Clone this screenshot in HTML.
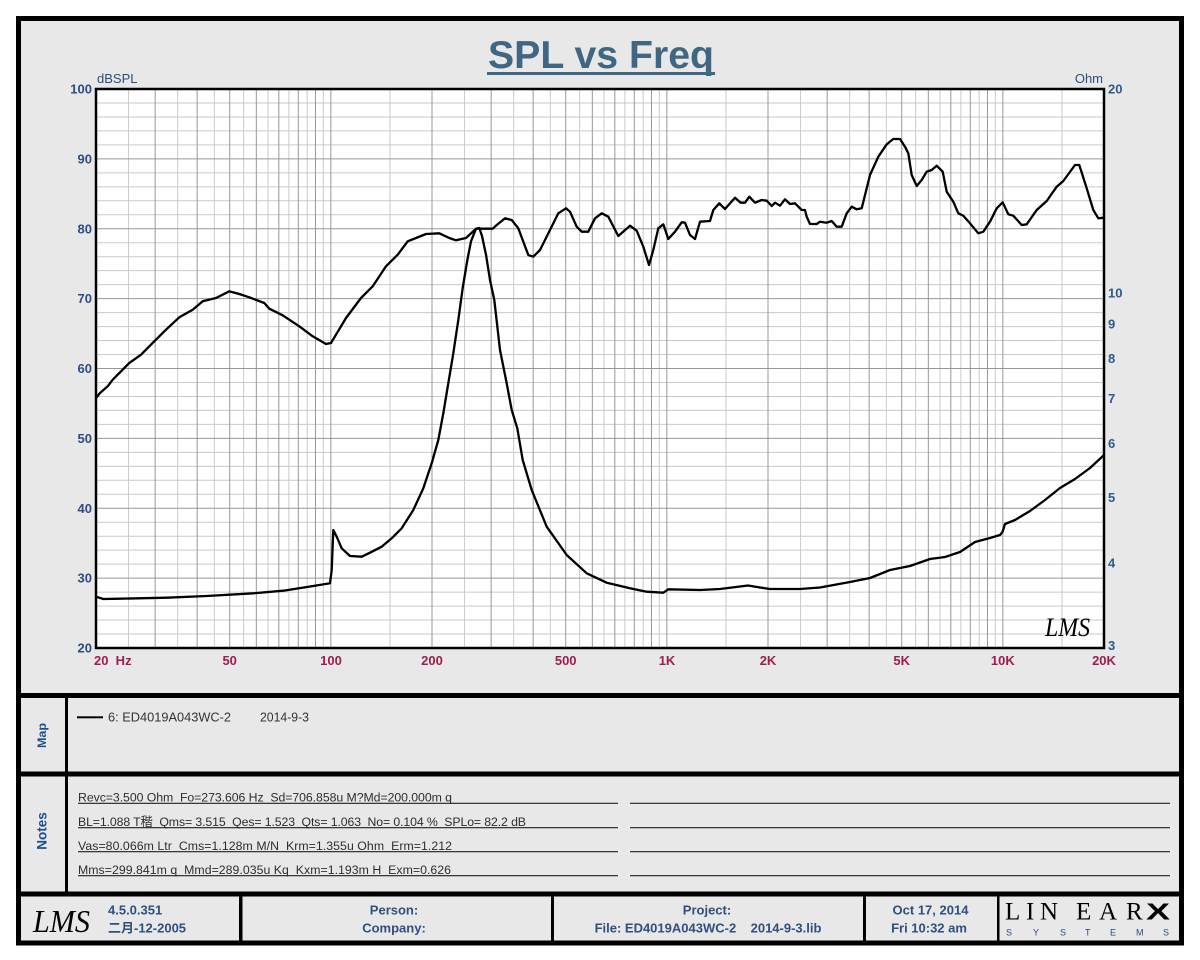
<!DOCTYPE html>
<html><head><meta charset="utf-8"><style>html,body{margin:0;padding:0;background:#fff;}svg{display:block;}</style></head>
<body>
<svg width="1200" height="960" viewBox="0 0 1200 960" xmlns="http://www.w3.org/2000/svg" font-family="'Liberation Sans', Arial, sans-serif">
<rect width="1200" height="960" fill="#fff"/>
<rect x="18.5" y="18.5" width="1163" height="924.5" fill="#e8e8e8" stroke="#000" stroke-width="5"/>

<!-- Title -->
<text x="601" y="68" text-anchor="middle" font-size="39" font-weight="bold" fill="#3f6784" textLength="226" lengthAdjust="spacingAndGlyphs">SPL vs Freq</text>
<rect x="487" y="72" width="228" height="3" fill="#3f6784"/>

<!-- plot area -->
<rect x="96" y="89" width="1008" height="559" fill="#fff"/>
<path fill="none" stroke="#cacaca" stroke-width="1" d="
M128.56 89V648M177.66 89V648M214.33 89V648M243.62 89V648M268 89V648M288.88 89V648M307.14 89V648M323.37 89V648
M390 89V648M464.56 89V648M513.66 89V648M550.33 89V648M579.62 89V648M604 89V648M624.88 89V648M643.14 89V648M659.37 89V648
M726 89V648M800.56 89V648M849.66 89V648M886.33 89V648M915.62 89V648M940 89V648M960.88 89V648M979.14 89V648M995.37 89V648
M1062 89V648
M96 102.98H1104M96 116.95H1104M96 130.93H1104M96 144.9H1104M96 172.85H1104M96 186.83H1104M96 200.8H1104M96 214.78H1104
M96 242.73H1104M96 256.7H1104M96 270.68H1104M96 284.65H1104M96 312.6H1104M96 326.58H1104M96 340.55H1104M96 354.53H1104
M96 382.48H1104M96 396.45H1104M96 410.43H1104M96 424.4H1104M96 452.35H1104M96 466.33H1104M96 480.3H1104M96 494.28H1104
M96 522.23H1104M96 536.2H1104M96 550.18H1104M96 564.15H1104M96 592.1H1104M96 606.08H1104M96 620.05H1104M96 634.03H1104"/>
<path fill="none" stroke="#979797" stroke-width="1" d="
M155.17 89V648M197.15 89V648M229.72 89V648M256.32 89V648M278.81 89V648M298.3 89V648M315.48 89V648M330.85 89V648
M432 89V648M491.17 89V648M533.15 89V648M565.72 89V648M592.32 89V648M614.81 89V648M634.3 89V648M651.48 89V648M666.85 89V648
M768 89V648M827.17 89V648M869.15 89V648M901.72 89V648M928.32 89V648M950.81 89V648M970.3 89V648M987.48 89V648M1002.85 89V648
M96 158.88H1104M96 228.75H1104M96 298.63H1104M96 368.5H1104M96 438.38H1104M96 508.25H1104M96 578.13H1104"/>

<!-- SPL curve -->
<polyline fill="none" stroke="#000" stroke-width="2.3" stroke-linejoin="round" points="96,398 100,393 107.7,386.3 112.7,379.7 129.3,363 141,354.7 154.3,341.3 166,329.7 179.3,317.3 192.7,309.7 202.7,301.3 216,298 229.3,291.3 239.3,294 249.3,297.3 264.3,303 269.3,308.7 282.7,315.3 299.3,326.3 312.7,336.3 326,344 331,343 336,334.7 346,318 361,298 372.7,286.3 386,266.3 397.7,254.7 407.7,241.3 416,238 426,234 439.3,233.3 449.3,238 456,240.3 466,238 476,228.7 492.7,228.7 496.7,225 505,218.3 511.7,220 518.3,228.3 523.3,241.7 528.3,255 533.3,256.7 540,250 550,230 558.3,213.3 566,208.3 570,211.7 576.7,226.7 581.7,231.7 588.3,231.7 595,218.3 601.7,213.3 608.3,216.7 618.3,236 630,225.7 636.7,230.7 643.3,246.7 649,265 653.3,250 658.3,228.3 663.3,224.3 668.3,239 675,231.7 681.7,222.3 685,222.7 690,235 695,239 700,221.7 710,221 713.3,210 719.3,203.3 725,209 735,197.7 740.7,202.7 745,202.7 749.3,196.7 755,202.7 761.7,200 766.7,200.7 771.7,206 775,202.7 780,205.7 785,199.3 790,204 795,203.3 801.7,210 805,210 806.7,216.7 810,224 816.7,224 820,221.7 826.7,222.7 831.7,221 836.7,226.7 841.7,226.7 846.7,213.3 851.7,206.7 856.7,209.3 861.7,208.3 870,175 878.3,156.7 886.7,144.3 893.3,139 900,139 905,146.7 908.3,153.3 911.7,175 916.7,186 921.7,180 926.7,171.7 931.7,170 936.7,165.7 942.7,171.7 946.7,191.7 953.3,201.7 958.3,213.3 963.3,215.7 970,223.3 978.3,233.3 983.3,231.7 990,221.7 996.7,208.3 1002.7,202.3 1008.3,214.3 1013.3,215.7 1021.7,225 1026.7,224.3 1036.7,210 1046.7,201 1056.7,186.7 1063.3,181 1075,165 1079.3,165 1086.7,188.3 1093.3,210 1098.3,218.3 1104,217.7"/>

<!-- Impedance curve -->
<polyline fill="none" stroke="#000" stroke-width="2.3" stroke-linejoin="round" points="96,596.7 103.3,599 120,598.7 166.7,597.7 206.7,596 253.3,593.3 283.3,590.7 313.3,586 330,583.3 331.7,570 333.3,530 336.7,536.7 341.7,548.3 350,556 361.7,556.7 370,552.7 381.7,546.7 391.7,538.3 401.7,528.3 413.3,510 423.3,488.3 431.7,463.3 438.3,440 443.3,413.3 448.3,383.3 453.3,353.3 458.3,320 462.7,288 467,262 471,241.3 476,228.7 479.3,228 482,236 486,254.7 490,280 494.3,300 500,350 506.7,383.3 511.7,410 517.3,428.3 522.7,460 531.7,490 546.7,526.7 566.7,555 586.7,573.3 606.7,582.7 630,588.3 646.7,591.7 663.3,592.7 668.3,589.3 700,590 720,589 740,586.5 748,585.5 760,587.5 770,589 800,589 820,587.5 850,582 870,578 885,572 890,570 910,566 930,559 945,557 960,552 975,542 990,538 1000,535 1002.5,532 1005,524 1015,520 1030,511 1045,500 1060,488 1075,479 1090,468 1104,455"/>

<rect x="96" y="89" width="1008" height="559" fill="none" stroke="#000" stroke-width="2.5"/>

<!-- LMS chart logo -->
<text x="1045" y="636" font-family="'Liberation Serif', serif" font-style="italic" font-size="26" fill="#000" textLength="45" lengthAdjust="spacingAndGlyphs">LMS</text>

<!-- Axis titles -->
<text x="97" y="83" font-size="13" fill="#2c4c82">dBSPL</text>
<text x="1103" y="83" font-size="13" fill="#2c4c82" text-anchor="end">Ohm</text>

<!-- left ticks -->
<g font-size="13" font-weight="bold" fill="#2c4c82" text-anchor="end">
<text x="92" y="93.5">100</text>
<text x="92" y="163.4">90</text>
<text x="92" y="233.3">80</text>
<text x="92" y="303.1">70</text>
<text x="92" y="373">60</text>
<text x="92" y="442.9">50</text>
<text x="92" y="512.8">40</text>
<text x="92" y="582.6">30</text>
<text x="92" y="652.5">20</text>
</g>
<!-- right ticks -->
<g font-size="13" font-weight="bold" fill="#2f5a90">
<text x="1108" y="93.5">20</text>
<text x="1108" y="297.7">10</text>
<text x="1108" y="328.5">9</text>
<text x="1108" y="363.2">8</text>
<text x="1108" y="402.8">7</text>
<text x="1108" y="448.2">6</text>
<text x="1108" y="502">5</text>
<text x="1108" y="567.5">4</text>
<text x="1108" y="650">3</text>
</g>
<!-- x ticks -->
<g font-size="13" font-weight="bold" fill="#a01c50" text-anchor="middle">
<text x="94" y="665" text-anchor="start" xml:space="preserve" style="white-space:pre">20  Hz</text>
<text x="229.7" y="665">50</text>
<text x="331" y="665">100</text>
<text x="432" y="665">200</text>
<text x="565.7" y="665">500</text>
<text x="667" y="665">1K</text>
<text x="768" y="665">2K</text>
<text x="901.7" y="665">5K</text>
<text x="1002.8" y="665">10K</text>
<text x="1104" y="665">20K</text>
</g>

<!-- separators -->
<rect x="16" y="693" width="1168" height="5" fill="#000"/>
<rect x="16" y="771.5" width="1168" height="5" fill="#000"/>
<rect x="16" y="891.5" width="1168" height="5" fill="#000"/>
<rect x="65" y="697" width="3" height="196" fill="#000"/>
<rect x="239" y="895" width="3.5" height="48" fill="#000"/>
<rect x="551" y="895" width="3" height="48" fill="#000"/>
<rect x="863" y="895" width="3" height="48" fill="#000"/>
<rect x="997" y="895" width="2.5" height="48" fill="#000"/>

<!-- side labels -->
<text transform="translate(46,735.5) rotate(-90)" text-anchor="middle" font-size="12" font-weight="bold" fill="#1f4e8c" textLength="25" lengthAdjust="spacingAndGlyphs">Map</text>
<text transform="translate(46.5,831) rotate(-90)" text-anchor="middle" font-size="13.5" font-weight="bold" fill="#1f4e8c">Notes</text>

<!-- Map legend -->
<rect x="77" y="716.3" width="26" height="2" fill="#000"/>
<text x="108" y="721.5" font-size="12.5" fill="#333" textLength="123" lengthAdjust="spacingAndGlyphs">6: ED4019A043WC-2</text>
<text x="260" y="721.5" font-size="12.5" fill="#333" textLength="49" lengthAdjust="spacingAndGlyphs">2014-9-3</text>

<!-- Notes -->
<g font-size="12.3" fill="#2e2e2e" font-family="'Liberation Sans', 'Noto Sans CJK SC', sans-serif">
<text x="78" y="801.5" xml:space="preserve" style="white-space:pre" textLength="374" lengthAdjust="spacing">Revc=3.500 Ohm  Fo=273.606 Hz  Sd=706.858u M?Md=200.000m q</text>
<text x="78" y="825.8" xml:space="preserve" style="white-space:pre" textLength="448" lengthAdjust="spacing">BL=1.088 T稭  Qms= 3.515  Qes= 1.523  Qts= 1.063  No= 0.104 %  SPLo= 82.2 dB</text>
<text x="78" y="849.8" xml:space="preserve" style="white-space:pre" textLength="374" lengthAdjust="spacing">Vas=80.066m Ltr  Cms=1.128m M/N  Krm=1.355u Ohm  Erm=1.212</text>
<text x="78" y="873.8" xml:space="preserve" style="white-space:pre" textLength="373" lengthAdjust="spacing">Mms=299.841m q  Mmd=289.035u Kq  Kxm=1.193m H  Exm=0.626</text>
</g>
<path stroke="#222" stroke-width="1.2" fill="none" d="M78 803.3H618M630 803.3H1170M78 827.7H618M630 827.7H1170M78 851.7H618M630 851.7H1170M78 875.7H618M630 875.7H1170"/>

<!-- Footer -->
<text x="33" y="932" font-family="'Liberation Serif', serif" font-style="italic" font-size="32" fill="#000" textLength="57" lengthAdjust="spacingAndGlyphs">LMS</text>
<g font-size="13" font-weight="bold" fill="#2e4f80" font-family="'Liberation Sans', 'Noto Sans CJK SC', sans-serif">
<text x="108" y="914.5">4.5.0.351</text>
<text x="108" y="932.5">二月-12-2005</text>
<text x="394" y="914.5" text-anchor="middle">Person:</text>
<text x="394" y="932.5" text-anchor="middle">Company:</text>
<text x="707" y="914.5" text-anchor="middle">Project:</text>
<text x="708" y="932.5" text-anchor="middle" xml:space="preserve" style="white-space:pre">File: ED4019A043WC-2    2014-9-3.lib</text>
<text x="930.5" y="914.5" text-anchor="middle">Oct 17, 2014</text>
<text x="929" y="932.5" text-anchor="middle">Fri 10:32 am</text>
</g>
<!-- LINEARX logo -->
<text font-family="'Liberation Serif', serif" font-size="25" fill="#000" y="919.5" x="1005 1026 1040 1076 1099 1126">LINEAR</text>
<text x="1146" y="919.5" font-size="23" font-weight="bold" fill="#000" textLength="24" lengthAdjust="spacingAndGlyphs">X</text>
<text font-size="9" fill="#2a4a7f" y="935.5" x="1006 1033 1060 1085 1110 1136 1163">SYSTEMS</text>
</svg>
</body></html>
